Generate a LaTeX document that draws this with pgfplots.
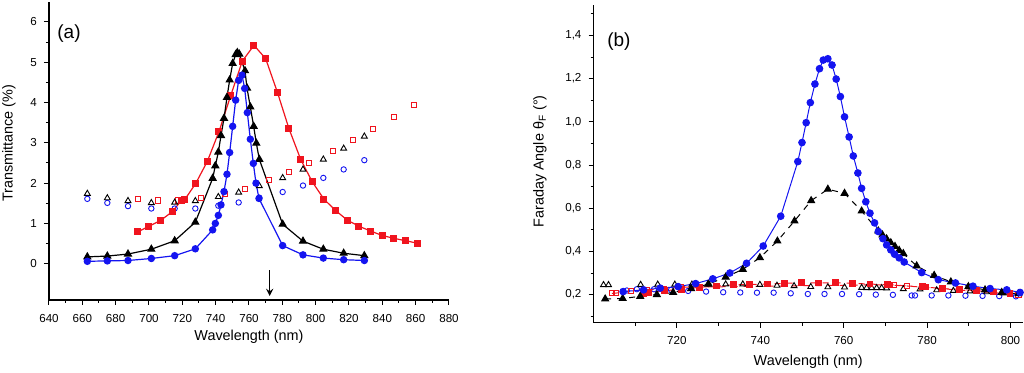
\documentclass[border=0pt]{standalone}
\usepackage{pgfplots}
\pgfplotsset{compat=1.18}
\usepackage{fontspec}
\setmainfont{Liberation Sans}
\definecolor{myred}{RGB}{240,20,30}
\definecolor{myblue}{RGB}{20,20,240}
\pgfplotsset{
  common/.style={
    scale only axis,
    axis lines=left,
    axis line style={-, line width=0.7pt},
    tick align=outside,
    major tick length=2.5pt,
    minor tick length=1.5pt,
    every tick/.style={black, line width=0.5pt},
    tick label style={font=\fontsize{5.8}{6.7}\selectfont},
    label style={font=\fontsize{7.2}{8.5}\selectfont},
    /pgf/number format/assume math mode=true,
    clip=false,
  },
}
\begin{document}
\begin{tikzpicture}
\path[use as bounding box] (0,0) rectangle (512pt,186.5pt);
% ---------------- panel (a)
\begin{axis}[common,
  at={(24.5pt,36.5pt)}, anchor=south west,
  width=200pt, height=149.1pt,
  xmin=640, xmax=880, ymin=-0.9, ymax=6.5,
  xtick={640,660,...,880}, minor x tick num=1,
  ytick={0,1,...,6}, minor y tick num=1,
  xlabel={Wavelength (nm)},
  ylabel={Transmittance (\%)},
  xlabel style={at={(axis description cs:0.5,-0.124)}, anchor=center},
  ylabel style={at={(axis description cs:-0.1,0.526)}, anchor=center, rotate=0},
  xticklabel style={yshift=-1pt},
]
% open symbols (no line)
\addplot[only marks, mark=square, mark size=1.3pt, myred, mark options={line width=0.45pt}] coordinates {
(693.2,1.60) (705.4,1.57) (717.6,1.57) (731.4,1.63) (745.4,1.73) (757.8,1.86) (771.8,2.07)
(783.8,2.28) (796.2,2.50) (810.2,2.80) (822.2,3.07) (834.6,3.35) (846.8,3.64) (859,3.94)};
\addplot[only marks, mark=o, mark size=1.35pt, myblue, mark options={line width=0.45pt}] coordinates {
(663,1.61) (675,1.51) (687.4,1.43) (701.4,1.37) (715.4,1.37) (727.8,1.37) (741.6,1.44)
(753.8,1.52) (766.2,1.64) (780.2,1.78) (792.4,1.94) (804.6,2.13) (816.8,2.34) (829.2,2.57)};
\addplot[only marks, mark=triangle, mark size=1.7pt, black, mark options={line width=0.45pt}] coordinates {
(663,1.74) (675,1.63) (687.4,1.56) (701.4,1.51) (715.4,1.52) (727.8,1.56) (741.6,1.66)
(753.8,1.77) (766.2,1.93) (780.2,2.13) (792.4,2.34) (804.6,2.59) (816.8,2.86) (829.2,3.16)};
% filled symbols with lines
\addplot[myred, line width=0.6pt, mark=square*, mark size=1.45pt] coordinates {
(693.2,0.79) (700,0.93) (707.2,1.08) (714.2,1.30) (719.6,1.58) (721.6,1.60) (728,1.99)
(735,2.54) (742,3.28) (749,4.17) (756,5.03) (763,5.42) (770,5.09) (777,4.26) (784,3.35)
(791,2.59) (798,2.03) (805,1.60) (812,1.32) (819,1.08) (826,0.93) (833,0.81) (840,0.70)
(847,0.63) (854,0.57) (861,0.51)};
\addplot[black, line width=0.6pt, mark=triangle*, mark size=1.9pt] coordinates {
(663,0.17) (675,0.19) (687.4,0.24) (701.4,0.36) (715.4,0.57) (727.8,1.03) (738.2,2.12)
(739.8,2.43) (741.6,2.77) (743.2,3.18) (745,3.61) (746.8,4.13) (748.4,4.56) (750.2,4.97)
(752,5.19) (753,5.24) (754.2,5.20) (757.6,4.79) (758.8,4.36) (760.8,3.89) (762.8,3.41)
(764.4,2.99) (766.2,2.59) (780.2,0.98) (792.4,0.56) (804.6,0.36) (816.8,0.26) (829.2,0.20)};
\addplot[myblue, line width=0.6pt, mark=*, mark size=1.55pt] coordinates {
(663,0.06) (675,0.07) (687.4,0.08) (701.4,0.13) (715.4,0.20) (727.8,0.37) (738.2,0.84)
(739.8,1.00) (741.6,1.20) (743.2,1.46) (745,1.79) (746.8,2.22) (748.4,2.76) (750.2,3.41)
(752,4.06) (753.8,4.55) (755.8,4.68) (757.4,4.35) (759,3.75) (760.8,3.09) (762.6,2.49)
(764.2,2.00) (766,1.62) (780.2,0.45) (792.4,0.22) (804.6,0.14) (816.8,0.10) (829.2,0.08)};
\draw[-stealth, line width=0.6pt] (axis cs:772.4,-0.16) -- (axis cs:772.4,-0.80);
\node[font=\fontsize{9.5}{11}\selectfont, anchor=center] at (axis cs:652,5.72) {(a)};
\end{axis}
% ---------------- panel (b)
\begin{axis}[common,
  at={(296.75pt,25.15pt)}, anchor=south west,
  width=214.75pt, height=158.75pt,
  xmin=700, xmax=803, ymin=0.07, ymax=1.54,
  xtick={720,740,...,800}, minor xtick={710,730,...,800},
  ytick={0.2,0.4,...,1.41}, minor ytick={0.1,0.3,...,1.51},
  yticklabel style={/pgf/number format/.cd, use comma, fixed, fixed zerofill, precision=1},
  xlabel={Wavelength (nm)},
  ylabel={Faraday Angle θ\textsubscript{F} (°)},
  xlabel style={at={(axis description cs:0.5,-0.124)}, anchor=center},
  ylabel style={at={(axis description cs:-0.1246,0.508)}, anchor=center, rotate=0},
  xticklabel style={yshift=-1pt},
]
\addplot[only marks, mark=o, mark size=1.35pt, myblue, mark options={line width=0.45pt}] coordinates {
(708,0.219) (710.4,0.225) (714.5,0.225) (718.6,0.222) (722.7,0.217) (727,0.214) (731.1,0.211)
(735.2,0.210) (739.2,0.209) (743.2,0.209) (747.3,0.206) (751.4,0.203) (755.4,0.203)
(759.6,0.203) (763.7,0.202) (767.7,0.200) (771.8,0.199) (776.3,0.196) (777.1,0.196)
(781.1,0.196) (785.1,0.196) (789.2,0.195) (793.3,0.194) (797.3,0.193) (801.3,0.192)};
\addplot[only marks, mark=triangle, mark size=1.7pt, black, mark options={line width=0.45pt}] coordinates {
(702.4,0.245) (703.6,0.245) (711.3,0.246) (715.4,0.247) (719.5,0.247) (723.6,0.247)
(727.7,0.248) (731.7,0.248) (735.8,0.248) (739.9,0.246) (744,0.242) (748.1,0.240)
(752.1,0.236) (756.2,0.235) (760.2,0.234) (764.3,0.232) (765.5,0.231) (766.7,0.231)
(767.9,0.231) (769.1,0.231) (770.3,0.230) (774.3,0.226) (778.3,0.225) (782.3,0.221)
(786.3,0.218) (790.3,0.216) (794.3,0.212) (798.3,0.207)};
\addplot[myred, dashed, line width=0.5pt, mark=square, mark size=1.3pt, mark options={solid, line width=0.45pt}] coordinates {
(704.4,0.206) (705.4,0.207) (708.9,0.217) (712.9,0.222) (716.9,0.228) (721,0.234)
(771.1,0.246) (772.1,0.245) (775.1,0.240) (801.9,0.200)};
\addplot[myred, dashed, line width=0.5pt, mark=square*, mark size=1.45pt, mark options={solid}] coordinates {
(711.9,0.206) (713.2,0.209) (717.1,0.218) (721.1,0.225) (725.5,0.234) (729.5,0.240)
(733.5,0.245) (737.5,0.247) (741.7,0.249) (745.8,0.252) (749.9,0.255) (754,0.254)
(758.1,0.255) (762.2,0.252) (766.3,0.249) (770.5,0.245) (778.9,0.236) (779.6,0.235)
(783.7,0.228) (787.8,0.224) (791.9,0.218) (795.9,0.212) (799.9,0.205)};
\addplot[black, dashed, line width=0.5pt, mark=triangle*, mark size=1.95pt, mark options={solid}] coordinates {
(702.8,0.180) (707,0.182) (711.2,0.192) (715.2,0.200) (719.1,0.210) (723.4,0.228)
(727.5,0.248) (731.7,0.281) (735.8,0.317) (739.9,0.371) (744.1,0.448) (748.2,0.541)
(752.2,0.635) (756.2,0.688) (760.2,0.669) (764.3,0.587) (768.3,0.495) (769.3,0.476)
(770.3,0.458) (771.3,0.440) (772.3,0.423) (773.3,0.405) (774.3,0.390) (777.5,0.333)
(781.7,0.289) (785.7,0.259) (789.9,0.237) (793.9,0.222) (797.9,0.210) (801.9,0.204)};
\addplot[myblue, line width=0.5pt, mark=*, mark size=1.65pt] coordinates {
(707.1,0.214) (712,0.222) (716,0.230) (720.3,0.237) (724.5,0.251) (728.6,0.273)
(732.7,0.300) (736.7,0.345) (740.7,0.425) (744.9,0.563) (749,0.816) (750,0.904)
(751,0.996) (752,1.089) (753.1,1.175) (754.2,1.246) (755.1,1.286) (756.2,1.292)
(757.2,1.263) (758.2,1.198) (759.2,1.117) (760.2,1.023) (761.3,0.930) (762.3,0.842)
(763.4,0.763) (764.3,0.692) (765.3,0.630) (766.3,0.577) (767.4,0.532) (768.3,0.492)
(769.4,0.459) (770.3,0.430) (771.3,0.407) (772.2,0.387) (773.3,0.370) (774.5,0.351)
(778.7,0.302) (782.7,0.269) (786.8,0.254) (791,0.239) (795.1,0.228) (799.1,0.222)
(802.3,0.210)};
\node[font=\fontsize{9.5}{11}\selectfont, anchor=center] at (axis cs:706.1,1.37) {(b)};
\end{axis}
\end{tikzpicture}
\end{document}
